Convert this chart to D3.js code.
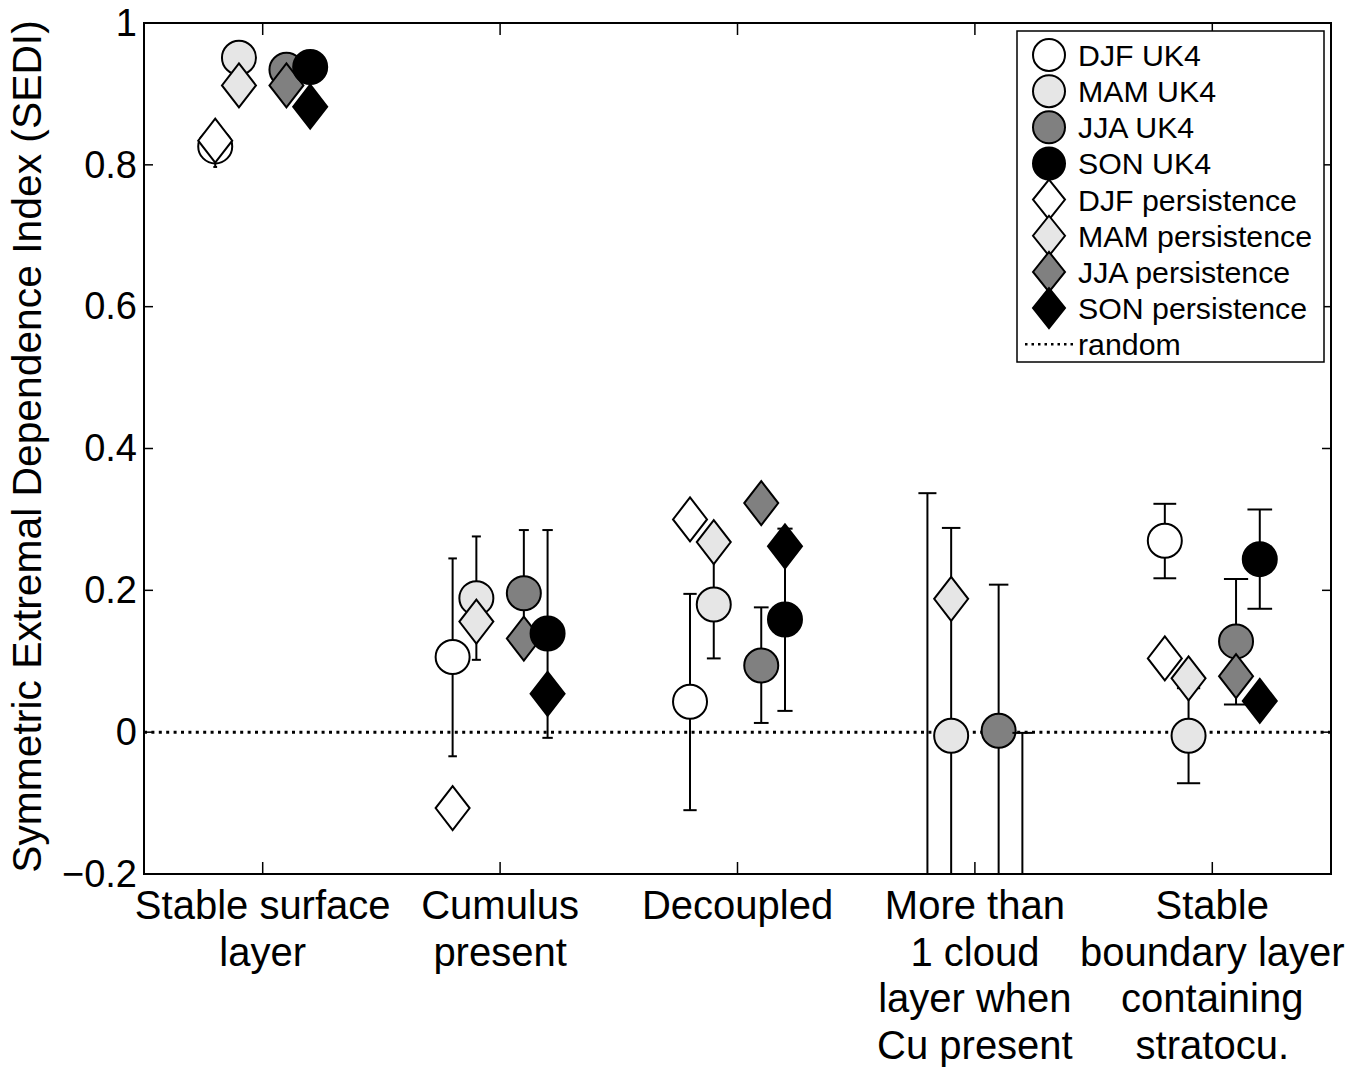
<!DOCTYPE html>
<html>
<head>
<meta charset="utf-8">
<script src="https://cdnjs.cloudflare.com/ajax/libs/d3/7.8.5/d3.min.js"></script>
<style>
  body { margin: 0; background: #fff; }
  svg { display: block; font-family: "Liberation Sans", Arial, sans-serif; }
</style>
</head>
<body>
<div id="chart"></div>
<script>
// categories (multi-line x tick labels)
const categories = [
  ["Stable surface", "layer"],
  ["Cumulus", "present"],
  ["Decoupled"],
  ["More than", "1 cloud", "layer when", "Cu present"],
  ["Stable", "boundary layer", "containing", "stratocu."]
];
const seasons = ["DJF", "MAM", "JJA", "SON"];
const seasonFill = ["#ffffff", "#e6e6e6", "#808080", "#000000"];
const seasonOffset = [-0.2, -0.1, 0.1, 0.2];

// rows = season (DJF, MAM, JJA, SON), cols = category; null = off the axes
const uk4Value = [
  [0.826, 0.106, 0.043, null, 0.270],
  [0.951, 0.189, 0.180, -0.005, -0.005],
  [0.934, 0.196, 0.094, 0.002, 0.128],
  [0.938, 0.139, 0.159, null, 0.244]
];
const uk4Lower = [
  [0.797, -0.034, -0.110, -0.25, 0.217],
  [0.930, 0.102, 0.104, -0.25, -0.072],
  [0.915, 0.120, 0.013, -0.25, 0.039],
  [0.920, -0.008, 0.030, -0.25, 0.174]
];
const uk4Upper = [
  [0.855, 0.245, 0.195, 0.337, 0.322],
  [0.970, 0.276, 0.255, 0.288, 0.062],
  [0.950, 0.285, 0.176, 0.208, 0.216],
  [0.955, 0.285, 0.287, -0.001, 0.314]
];
const persistence = [
  [0.834, -0.107, 0.300, null, 0.104],
  [0.912, 0.156, 0.268, 0.188, 0.076],
  [0.912, 0.132, 0.323, null, 0.079],
  [0.882, 0.054, 0.262, null, 0.044]
];
const randomLevel = 0;
const yTicks = [-0.2, 0, 0.2, 0.4, 0.6, 0.8, 1];
const yLabel = "Symmetric Extremal Dependence Index (SEDI)";

const width = 1365, height = 1070;
const plotL = 144, plotR = 1331, plotT = 23, plotB = 874;

const x = d3.scaleLinear().domain([0.5, 5.5]).range([plotL, plotR]);
const y = d3.scaleLinear().domain([-0.2, 1]).range([plotB, plotT]);

const svg = d3.select("#chart").append("svg")
  .attr("width", width).attr("height", height);

svg.append("defs").append("clipPath").attr("id", "plotclip")
  .append("rect").attr("x", plotL).attr("y", plotT)
  .attr("width", plotR - plotL).attr("height", plotB - plotT);

const plot = svg.append("g").attr("clip-path", "url(#plotclip)");

// random (zero skill) line
plot.append("line")
  .attr("x1", plotL).attr("x2", plotR)
  .attr("y1", y(randomLevel)).attr("y2", y(randomLevel))
  .attr("stroke", "#000").attr("stroke-width", 3)
  .attr("stroke-dasharray", "3,4.4");

const circleR = 17, dHalfW = 17, dHalfH = 22;
const diamond = (cx, cy, hw, hh) =>
  `M${cx},${cy - hh}L${cx + hw},${cy}L${cx},${cy + hh}L${cx - hw},${cy}Z`;

seasons.forEach((s, si) => {
  categories.forEach((c, ci) => {
    const xv = ci + 1 + seasonOffset[si];
    const px = x(xv);
    // error bar, tee half-width |x|/100 like old matlab errorbar
    const tee = x(xv + Math.abs(xv) / 100) - px;
    const lo = uk4Lower[si][ci], hi = uk4Upper[si][ci];
    const eb = plot.append("g").attr("stroke", "#000").attr("stroke-width", 2);
    eb.append("line").attr("x1", px).attr("x2", px).attr("y1", y(lo)).attr("y2", y(hi));
    eb.append("line").attr("x1", px - tee).attr("x2", px + tee).attr("y1", y(lo)).attr("y2", y(lo));
    eb.append("line").attr("x1", px - tee).attr("x2", px + tee).attr("y1", y(hi)).attr("y2", y(hi));

    const v = uk4Value[si][ci];
    if (v !== null) {
      plot.append("circle")
        .attr("cx", px).attr("cy", y(v)).attr("r", circleR)
        .attr("fill", seasonFill[si]).attr("stroke", "#000").attr("stroke-width", 2);
    }
    const p = persistence[si][ci];
    if (p !== null) {
      plot.append("path")
        .attr("d", diamond(px, y(p), dHalfW, dHalfH))
        .attr("fill", seasonFill[si]).attr("stroke", "#000").attr("stroke-width", 2);
    }
  });
});

// axes box
const yAxisL = d3.axisLeft(y).tickValues(yTicks).tickSize(0).tickPadding(7)
  .tickFormat(d => d === 0 ? "0" : d3.format("")(d).replace("-", "\u2212"));
svg.append("g").attr("transform", `translate(${plotL},0)`).call(yAxisL)
  .call(g => g.select(".domain").remove())
  .selectAll("text").attr("font-size", 38).attr("fill", "#000")
  .attr("font-family", "Liberation Sans, Arial, sans-serif");

const ticks = svg.append("g").attr("stroke", "#000").attr("stroke-width", 1.5);
yTicks.forEach(t => {
  ticks.append("line").attr("x1", plotL).attr("x2", plotL + 9).attr("y1", y(t)).attr("y2", y(t));
  ticks.append("line").attr("x1", plotR).attr("x2", plotR - 9).attr("y1", y(t)).attr("y2", y(t));
});
categories.forEach((c, i) => {
  ticks.append("line").attr("x1", x(i + 1)).attr("x2", x(i + 1)).attr("y1", plotB).attr("y2", plotB - 12);
  ticks.append("line").attr("x1", x(i + 1)).attr("x2", x(i + 1)).attr("y1", plotT).attr("y2", plotT + 12);
});

svg.append("rect").attr("x", plotL).attr("y", plotT)
  .attr("width", plotR - plotL).attr("height", plotB - plotT)
  .attr("fill", "none").attr("stroke", "#000").attr("stroke-width", 2);

// category labels
const catLabels = svg.append("g").attr("font-size", 40).attr("text-anchor", "middle");
categories.forEach((lines, i) => {
  const t = catLabels.append("text").attr("x", x(i + 1)).attr("y", 919);
  lines.forEach((ln, k) => {
    t.append("tspan").attr("x", x(i + 1)).attr("dy", k === 0 ? 0 : 46.5).text(ln);
  });
});

// y axis title
svg.append("text")
  .attr("transform", `translate(41,${(plotT + plotB) / 2 - 2}) rotate(-90)`)
  .attr("text-anchor", "middle").attr("font-size", 40.8)
  .text(yLabel);

// legend
const legX = 1017, legY = 31, legW = 307, legH = 331;
const leg = svg.append("g");
leg.append("rect").attr("x", legX).attr("y", legY).attr("width", legW).attr("height", legH)
  .attr("fill", "#fff").attr("stroke", "#000").attr("stroke-width", 1.5);

const legendItems = [];
seasons.forEach((s, si) => legendItems.push({ label: s + " UK4", shape: "circle", fill: seasonFill[si] }));
seasons.forEach((s, si) => legendItems.push({ label: s + " persistence", shape: "diamond", fill: seasonFill[si] }));
legendItems.push({ label: "random", shape: "line" });

legendItems.forEach((d, i) => {
  const cy = 55 + i * 36.15;
  if (d.shape === "circle") {
    leg.append("circle").attr("cx", 1049).attr("cy", cy).attr("r", 16)
      .attr("fill", d.fill).attr("stroke", "#000").attr("stroke-width", 2);
  } else if (d.shape === "diamond") {
    leg.append("path").attr("d", diamond(1049, cy, 16, 20))
      .attr("fill", d.fill).attr("stroke", "#000").attr("stroke-width", 2);
  } else {
    leg.append("line").attr("x1", 1025).attr("x2", 1075).attr("y1", cy).attr("y2", cy)
      .attr("stroke", "#000").attr("stroke-width", 2.5).attr("stroke-dasharray", "2.5,4");
  }
  leg.append("text").attr("x", 1078).attr("y", cy).attr("dy", "0.36em")
    .attr("font-size", 30.3).text(d.label);
});
</script>
</body>
</html>
